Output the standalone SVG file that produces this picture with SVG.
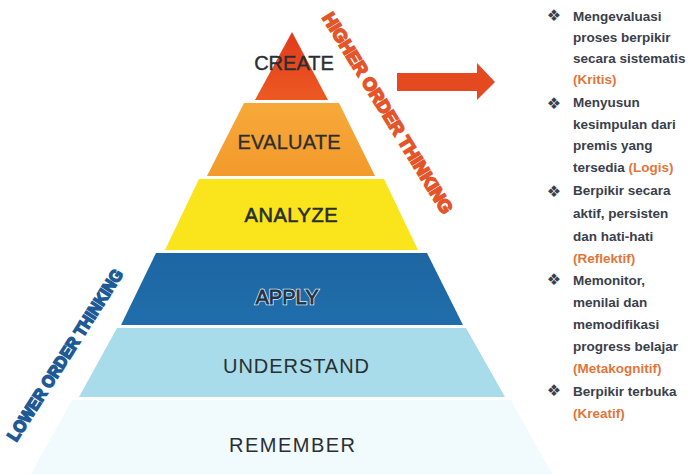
<svg xmlns="http://www.w3.org/2000/svg" width="689" height="474" viewBox="0 0 689 474">
  <defs>
    <linearGradient id="gCreate" x1="0" y1="0" x2="0" y2="1">
      <stop offset="0" stop-color="#e2391b"/>
      <stop offset="1" stop-color="#ec5a22"/>
    </linearGradient>
    <linearGradient id="gEvaluate" x1="0" y1="0" x2="0" y2="1">
      <stop offset="0" stop-color="#f6a93a"/>
      <stop offset="1" stop-color="#f39a2c"/>
    </linearGradient>
    <linearGradient id="gApply" x1="0" y1="0" x2="0" y2="1">
      <stop offset="0" stop-color="#1d66a2"/>
      <stop offset="1" stop-color="#1f6eab"/>
    </linearGradient>
    <style>
      .lvl { font-family: "Liberation Sans", Arial, sans-serif; font-size: 20px; fill: #2a2e33; text-anchor: middle; }
      .side { font-family: "Liberation Sans", Arial, sans-serif; font-weight: bold; text-anchor: middle; }
      .item { font-family: "Liberation Sans", Arial, sans-serif; font-weight: bold; font-size: 13.5px; fill: #3a404b; }
      .key { fill: #e2753a; }
      .bul { font-family: "DejaVu Sans", sans-serif; font-size: 16px; fill: #3a404b; text-anchor: middle; }
    </style>
  </defs>

  <rect width="689" height="474" fill="#ffffff"/>

  <!-- pyramid levels, top to bottom -->
  <g id="remember">
    <polygon points="72,400 511,400 552,474 31,474" fill="#f1fafc"/>
    <text class="lvl" x="292" y="452" textLength="126" lengthAdjust="spacing">REMEMBER</text>
  </g>
  <g id="understand">
    <polygon points="117,328 466,328 505,397 79,397" fill="#a8dcea"/>
    <text class="lvl" x="296" y="373" textLength="146" lengthAdjust="spacing">UNDERSTAND</text>
  </g>
  <g id="apply">
    <polygon points="156,253 427,253 463,325 121,325" fill="url(#gApply)"/>
    <text class="lvl" x="287" y="304" font-size="19.5" stroke="#dce9f3" stroke-width="2.4" fill="none">APPLY</text>
    <text class="lvl" x="287" y="304" font-size="19.5" fill="#2a72ab" stroke="#1a3550" stroke-width="0.8">APPLY</text>
  </g>
  <g id="analyze">
    <polygon points="199,179 384,179 418,250 165,250" fill="#fae41c"/>
    <text class="lvl" x="291" y="222" textLength="93" stroke="#2a2e33" stroke-width="0.6">ANALYZE</text>
  </g>
  <g id="evaluate">
    <polygon points="244,103 339,103 375,176 207,176" fill="url(#gEvaluate)"/>
    <text class="lvl" x="289" y="149" textLength="103" stroke="#2a2e33" stroke-width="0.3">EVALUATE</text>
  </g>
  <g id="create">
    <polygon points="292,32 328,100 255,100" fill="url(#gCreate)"/>
    <text class="lvl" x="294" y="70" font-size="15.5" stroke="#2a2e33" stroke-width="0.4">CREATE</text>
  </g>

  <!-- slanted side captions -->
  <g id="higher-order">
    <g transform="translate(388,113) rotate(58.5)">
      <text class="side" x="0" y="6.5" font-size="18" fill="#e4562a" stroke="#e4562a" stroke-width="1.8" textLength="232" lengthAdjust="spacingAndGlyphs">HIGHER ORDER THINKING</text>
    </g>
  </g>
  <g id="lower-order">
    <g transform="translate(65,355) rotate(-57.5)">
      <text class="side" x="0" y="6" font-size="17" fill="#1d5a96" stroke="#1d5a96" stroke-width="1.6" textLength="200" lengthAdjust="spacingAndGlyphs">LOWER ORDER THINKING</text>
    </g>
  </g>

  <!-- connector: block arrow toward the list -->
  <g id="connectors">
    <polygon points="397,73 477,73 477,63 495,82 477,100 477,91 397,91" fill="#e5491f"/>
  </g>

  <!-- descriptive list -->
  <g id="list">
    <text class="bul" x="554" y="21">❖</text>
    <text class="bul" x="554" y="109">❖</text>
    <text class="bul" x="554" y="197">❖</text>
    <text class="bul" x="554" y="285">❖</text>
    <text class="bul" x="554" y="396">❖</text>

    <text class="item" x="573" y="21">Mengevaluasi</text>
    <text class="item" x="573" y="42">proses berpikir</text>
    <text class="item" x="573" y="63">secara sistematis</text>
    <text class="item key" x="573" y="84">(Kritis)</text>

    <text class="item" x="573" y="107">Menyusun</text>
    <text class="item" x="573" y="129">kesimpulan dari</text>
    <text class="item" x="573" y="150">premis yang</text>
    <text class="item" x="573" y="172">tersedia <tspan class="key">(Logis)</tspan></text>

    <text class="item" x="573" y="195">Berpikir secara</text>
    <text class="item" x="573" y="218">aktif, persisten</text>
    <text class="item" x="573" y="241">dan hati-hati</text>
    <text class="item key" x="573" y="263">(Reflektif)</text>

    <text class="item" x="573" y="285">Memonitor,</text>
    <text class="item" x="573" y="307">menilai dan</text>
    <text class="item" x="573" y="329">memodifikasi</text>
    <text class="item" x="573" y="351">progress belajar</text>
    <text class="item key" x="573" y="373">(Metakognitif)</text>

    <text class="item" x="573" y="396">Berpikir terbuka</text>
    <text class="item key" x="573" y="418">(Kreatif)</text>
  </g>
</svg>
